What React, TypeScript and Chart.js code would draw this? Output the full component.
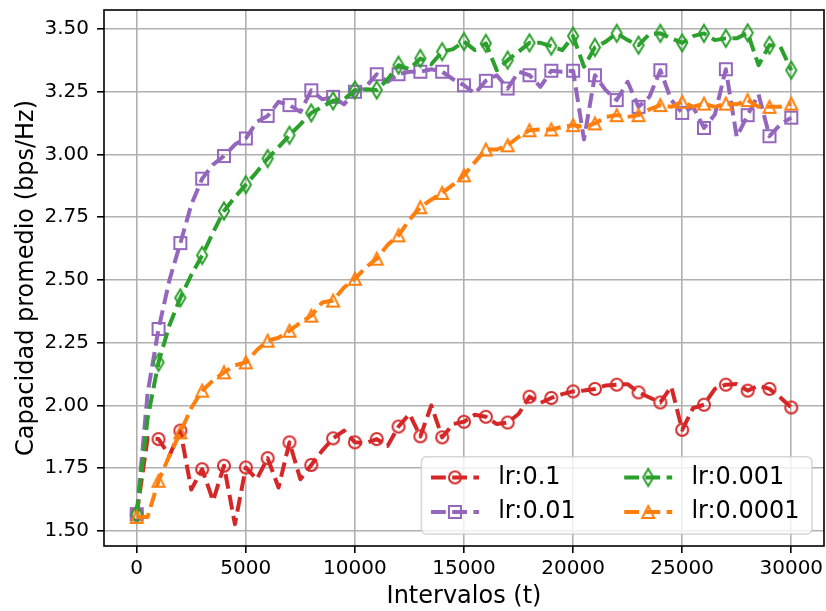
import React, { useEffect, useRef } from 'react';
import { Chart, registerables } from 'chart.js';

Chart.register(...registerables);

// x positions (intervalos t)
const intervals = [
  0, 500, 1000, 1500, 2000, 2500, 3000, 3500, 4000, 4500,
  5000, 5500, 6000, 6500, 7000, 7500, 8000, 8500, 9000, 9500,
  10000, 10500, 11000, 11500, 12000, 12500, 13000, 13500, 14000, 14500,
  15000, 15500, 16000, 16500, 17000, 17500, 18000, 18500, 19000, 19500,
  20000, 20500, 21000, 21500, 22000, 22500, 23000, 23500, 24000, 24500,
  25000, 25500, 26000, 26500, 27000, 27500, 28000, 28500, 29000, 29500,
  30000,
];

const lr0_1 = [
  1.567, 1.87, 1.866, 1.80, 1.90, 1.665, 1.746, 1.62, 1.76, 1.527,
  1.753, 1.706, 1.79, 1.673, 1.853, 1.706, 1.763, 1.82, 1.869, 1.90,
  1.853, 1.85, 1.866, 1.839, 1.916, 1.966, 1.877, 2.00, 1.873, 1.926,
  1.935, 1.963, 1.955, 1.926, 1.932, 1.966, 2.035, 2.01, 2.03, 2.045,
  2.056, 2.06, 2.066, 2.08, 2.083, 2.085, 2.052, 2.032, 2.012, 2.075,
  1.903, 1.99, 2.003, 2.066, 2.083, 2.086, 2.059, 2.079, 2.066, 2.032,
  1.992,
];

const lr0_01 = [
  1.567, 2.05, 2.305, 2.50, 2.647, 2.80, 2.904, 2.96, 2.994, 3.04,
  3.064, 3.13, 3.154, 3.21, 3.197, 3.17, 3.256, 3.22, 3.23, 3.20,
  3.25, 3.27, 3.32, 3.29, 3.32, 3.33, 3.33, 3.34, 3.33, 3.30,
  3.276, 3.243, 3.294, 3.316, 3.263, 3.33, 3.316, 3.27, 3.334, 3.33,
  3.334, 3.06, 3.316, 3.256, 3.217, 3.29, 3.19, 3.23, 3.336, 3.217,
  3.166, 3.19, 3.106, 3.16, 3.34, 3.07, 3.157, 3.24, 3.073, 3.12,
  3.147,
];

const lr0_001 = [
  1.567, 1.95, 2.172, 2.32, 2.429, 2.52, 2.598, 2.69, 2.775, 2.83,
  2.88, 2.93, 2.984, 3.03, 3.077, 3.12, 3.166, 3.19, 3.214, 3.22,
  3.257, 3.26, 3.257, 3.30, 3.356, 3.34, 3.383, 3.36, 3.41, 3.42,
  3.45, 3.416, 3.443, 3.336, 3.376, 3.41, 3.445, 3.445, 3.432, 3.416,
  3.472, 3.35, 3.427, 3.45, 3.483, 3.456, 3.436, 3.48, 3.483, 3.463,
  3.445, 3.472, 3.483, 3.456, 3.463, 3.463, 3.485, 3.356, 3.436, 3.43,
  3.336,
];

const lr0_0001 = [
  1.556, 1.556, 1.70, 1.80, 1.893, 1.99, 2.059, 2.10, 2.132, 2.16,
  2.172, 2.22, 2.258, 2.27, 2.298, 2.33, 2.358, 2.41, 2.418, 2.47,
  2.505, 2.55, 2.585, 2.64, 2.678, 2.74, 2.79, 2.82, 2.847, 2.88,
  2.917, 2.97, 3.02, 3.02, 3.037, 3.07, 3.097, 3.10, 3.10, 3.11,
  3.117, 3.11, 3.124, 3.15, 3.157, 3.15, 3.157, 3.18, 3.197, 3.19,
  3.21, 3.19, 3.203, 3.19, 3.203, 3.20, 3.217, 3.19, 3.19, 3.19,
  3.203,
];

const seriesLabels = ['lr:0.1', 'lr:0.01', 'lr:0.001', 'lr:0.0001'];
const seriesColors = ['#d62728', '#9467bd', '#2ca02c', '#ff7f0e'];
const seriesMarkers = ['circle', 'square', 'thinDiamond', 'triangle'];
const seriesValues = [lr0_1, lr0_01, lr0_001, lr0_0001];

const xTickValues = [0, 5000, 10000, 15000, 20000, 25000, 30000];
const yTickValues = [1.5, 1.75, 2.0, 2.25, 2.5, 2.75, 3.0, 3.25, 3.5];

const xLabel = 'Intervalos (t)';
const yLabel = 'Capacidad promedio (bps/Hz)';

const FONT = '"DejaVu Sans", "Liberation Sans", sans-serif';
const LINE_W = 4;
const DASH = [14.8, 6.4];

function makeMarker(kind: string, color: string): HTMLCanvasElement {
  const c = document.createElement('canvas');
  const ctx = c.getContext('2d') as CanvasRenderingContext2D;
  if (kind === 'thinDiamond') {
    c.width = 14;
    c.height = 24;
  } else {
    c.width = 20;
    c.height = 20;
  }
  const cx = c.width / 2;
  const cy = c.height / 2;
  ctx.strokeStyle = color;
  ctx.lineWidth = 2;
  ctx.lineJoin = 'miter';
  ctx.beginPath();
  if (kind === 'circle') {
    ctx.arc(cx, cy, 6, 0, Math.PI * 2);
  } else if (kind === 'square') {
    ctx.rect(cx - 6, cy - 6, 12, 12);
  } else if (kind === 'triangle') {
    ctx.moveTo(cx, cy - 6);
    ctx.lineTo(cx - 6, cy + 6);
    ctx.lineTo(cx + 6, cy + 6);
    ctx.closePath();
  } else {
    ctx.moveTo(cx, cy - 8.5);
    ctx.lineTo(cx + 5.1, cy);
    ctx.lineTo(cx, cy + 8.5);
    ctx.lineTo(cx - 5.1, cy);
    ctx.closePath();
  }
  ctx.stroke();
  return c;
}

export default function App() {
  const ref = useRef<HTMLCanvasElement>(null);

  useEffect(() => {
    if (!ref.current) return;
    const markers = seriesMarkers.map((m, i) => makeMarker(m, seriesColors[i]));

    const spinesPlugin = {
      id: 'spines',
      afterDatasetsDraw(chart: any) {
        const { ctx, chartArea: ca } = chart;
        ctx.save();
        ctx.strokeStyle = '#000';
        ctx.lineWidth = 1.6;
        ctx.setLineDash([]);
        ctx.strokeRect(ca.left, ca.top, ca.right - ca.left, ca.bottom - ca.top);
        ctx.restore();
      },
    };

    const legendPlugin = {
      id: 'mplLegend',
      afterDraw(chart: any) {
        const { ctx, chartArea: ca } = chart;
        const w = 390.6;
        const h = 77.3;
        const right = ca.right - 12;
        const bottom = ca.bottom - 12;
        const left = right - w;
        const top = bottom - h;
        const r = 5;
        ctx.save();
        ctx.beginPath();
        ctx.moveTo(left + r, top);
        ctx.lineTo(right - r, top);
        ctx.arcTo(right, top, right, top + r, r);
        ctx.lineTo(right, bottom - r);
        ctx.arcTo(right, bottom, right - r, bottom, r);
        ctx.lineTo(left + r, bottom);
        ctx.arcTo(left, bottom, left, bottom - r, r);
        ctx.lineTo(left, top + r);
        ctx.arcTo(left, top, left + r, top, r);
        ctx.closePath();
        ctx.fillStyle = 'rgba(255,255,255,0.8)';
        ctx.fill();
        ctx.strokeStyle = 'rgba(204,204,204,0.8)';
        ctx.lineWidth = 1.5;
        ctx.stroke();

        const layout = [
          [0, 0],
          [0, 1],
          [1, 0],
          [1, 1],
        ];
        chart.data.datasets.forEach((ds: any, i: number) => {
          const [col, row] = layout[i];
          const hx = left + 9.6 + col * 193.2;
          const cy = top + 20.7 + row * 34.6;
          ctx.beginPath();
          ctx.setLineDash(DASH);
          ctx.lineDashOffset = 0;
          ctx.lineWidth = LINE_W;
          ctx.lineCap = 'butt';
          ctx.strokeStyle = seriesColors[i];
          ctx.moveTo(hx, cy);
          ctx.lineTo(hx + 48, cy);
          ctx.stroke();
          ctx.setLineDash([]);
          const m = markers[i];
          ctx.drawImage(m, hx + 24 - m.width / 2, cy - m.height / 2);
          ctx.fillStyle = '#000';
          ctx.font = `24px ${FONT}`;
          ctx.textBaseline = 'middle';
          ctx.textAlign = 'left';
          ctx.fillText(ds.label, hx + 67.2, cy);
        });
        ctx.restore();
      },
    };

    const datasets = seriesValues.map((vals, i) => ({
      label: seriesLabels[i],
      data: intervals.map((x, j) => ({ x, y: vals[j] })),
      borderColor: seriesColors[i],
      backgroundColor: 'transparent',
      borderWidth: LINE_W,
      borderDash: DASH,
      borderCapStyle: 'butt',
      borderJoinStyle: 'round',
      tension: 0,
      fill: false,
      pointStyle: markers[i],
      pointRadius: (c: any) => (c.dataIndex % 2 === 0 ? 6 : 0),
      pointBorderColor: seriesColors[i],
      pointBackgroundColor: 'transparent',
      order: 3 - i,
    }));

    const gridOpts = {
      color: '#b0b0b0',
      lineWidth: 1.6,
      tickColor: '#000',
      tickWidth: 1.6,
      tickLength: 7,
      drawTicks: true,
    };

    const chart = new Chart(ref.current, {
      type: 'line',
      data: { datasets: datasets as any },
      plugins: [spinesPlugin, legendPlugin],
      options: {
        responsive: false,
        animation: false,
        devicePixelRatio: 1,
        events: [],
        layout: { autoPadding: false, padding: { top: 10, right: 2, left: 0, bottom: 0 } },
        plugins: {
          legend: { display: false },
          tooltip: { enabled: false },
        },
        scales: {
          x: {
            type: 'linear',
            min: -1500,
            max: 31500,
            afterBuildTicks: (s: any) => {
              s.ticks = xTickValues.map((v) => ({ value: v }));
            },
            afterFit: (s: any) => {
              s.height = 65;
              s.paddingLeft = 0;
              s.paddingRight = 0;
            },
            ticks: {
              autoSkip: false,
              maxRotation: 0,
              padding: 4,
              color: '#000',
              font: { family: FONT, size: 20 },
              callback: (v: any) => String(v),
            },
            grid: gridOpts,
            border: { display: false },
            title: {
              display: true,
              text: xLabel,
              color: '#000',
              font: { family: FONT, size: 24 },
              padding: { top: 0, bottom: 0 },
            },
          },
          y: {
            type: 'linear',
            min: 1.44,
            max: 3.576,
            afterBuildTicks: (s: any) => {
              s.ticks = yTickValues.map((v) => ({ value: v }));
            },
            afterFit: (s: any) => {
              s.width = 104;
              s.paddingTop = 0;
              s.paddingBottom = 0;
            },
            ticks: {
              autoSkip: false,
              padding: 8,
              color: '#000',
              font: { family: FONT, size: 20 },
              callback: (v: any) => Number(v).toFixed(2),
            },
            grid: gridOpts,
            border: { display: false },
            title: {
              display: true,
              text: yLabel,
              color: '#000',
              font: { family: FONT, size: 24 },
              padding: { top: 12, bottom: 0 },
            },
          },
        },
      } as any,
    });

    return () => chart.destroy();
  }, []);

  return (
    <div
      style={{
        position: 'fixed',
        left: 0,
        top: 0,
        width: 826,
        height: 611,
        background: '#fff',
      }}
    >
      <canvas ref={ref} width={826} height={611} style={{ display: 'block' }} />
    </div>
  );
}
